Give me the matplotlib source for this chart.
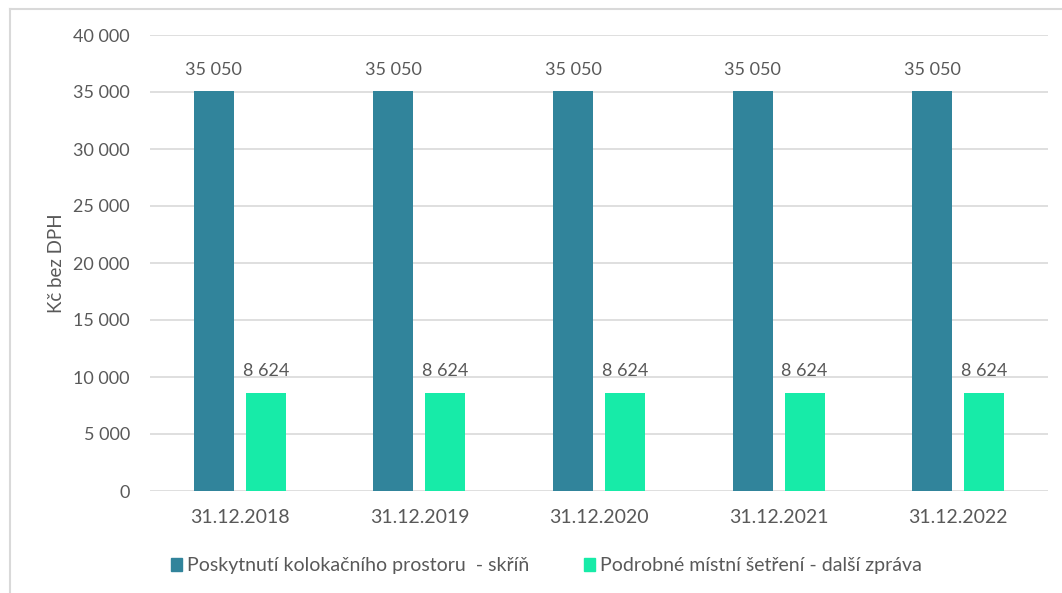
import matplotlib
matplotlib.use("Agg")
import matplotlib.pyplot as plt
from matplotlib.lines import Line2D
from matplotlib.patches import Rectangle
import numpy as np

categories = ["31.12.2018", "31.12.2019", "31.12.2020", "31.12.2021", "31.12.2022"]
series_names = ["Poskytnutí kolokačního prostoru  - skříň", "Podrobné místní šetření - další zpráva"]
series1 = [35050, 35050, 35050, 35050, 35050]
series2 = [8624, 8624, 8624, 8624, 8624]
yticks = [0, 5000, 10000, 15000, 20000, 25000, 30000, 35000, 40000]

colors = ["#31849B", "#17EBA8"]
txt = "#595959"
plt.rcParams['font.family'] = ['Lato', 'DejaVu Sans']

W, H = 1062, 593
fig = plt.figure(figsize=(W / 100, H / 100), dpi=100)
ax = fig.add_axes([150 / W, 1 - 491 / H, (1048 - 150) / W, (491 - 35) / H])

def fmt(v):
    return f"{v:,}".replace(",", " ")

x = np.arange(len(categories))
bw = 0.223
off = 0.145
b1 = ax.bar(x - off, series1, bw, color=colors[0], zorder=3)
b2 = ax.bar(x + off, series2, bw, color=colors[1], zorder=3)
for rects, vals in ((b1, series1), (b2, series2)):
    for r, v in zip(rects, vals):
        ax.annotate(fmt(v), (r.get_x() + r.get_width() / 2, v), xytext=(0, 9.5),
                    textcoords="offset points", ha="center", va="bottom",
                    fontsize=13, color=txt)

ax.set_xlim(-0.5, len(categories) - 0.5)
ax.set_ylim(0, 40000)
ax.set_yticks(yticks)
ax.set_yticklabels([fmt(v) for v in yticks])
ax.set_xticks(x)
ax.set_xticklabels(categories)
ax.tick_params(axis="both", length=0, colors=txt)
ax.tick_params(axis="y", pad=14.5, labelsize=13)
ax.tick_params(axis="x", pad=13, labelsize=14)
ax.grid(axis="y", color="#D9D9D9", linewidth=1.2, zorder=0)
for s in ax.spines.values():
    s.set_visible(False)
ax.set_ylabel("Kč bez DPH", fontsize=13.5, color=txt)
ax.yaxis.set_label_coords(-(150 - 65) / (1048 - 150), 0.5)

handles = [Rectangle((0, 0), 1, 1, color=c) for c in colors]
fig.legend(handles, series_names, loc="center left", bbox_to_anchor=(153 / W, 1 - 566 / H),
           ncol=2, frameon=False, fontsize=14, labelcolor=txt, handlelength=0.6,
           handleheight=0.6, handletextpad=0.25, columnspacing=2.8)

fig.add_artist(Line2D([10 / W, 10 / W], [0, 1 - 9 / H], transform=fig.transFigure, color="#D9D9D9", lw=1.5))
fig.add_artist(Line2D([10 / W, 1], [1 - 9 / H, 1 - 9 / H], transform=fig.transFigure, color="#D9D9D9", lw=1.5))

fig.savefig("out.png", dpi=100)
